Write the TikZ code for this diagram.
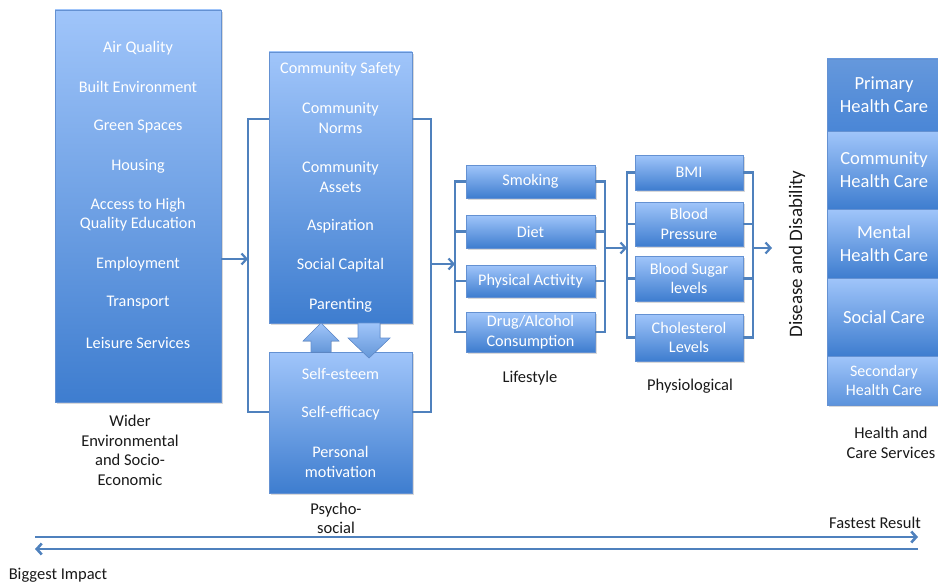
\documentclass[tikz,border=0pt]{standalone}
\usepackage{fontspec}
\setmainfont{Carlito}
\usepackage{xcolor}
\usepackage{tikz}
\usetikzlibrary{calc, arrows.meta, shadows}

\definecolor{linkblue}{RGB}{79,129,189}
\definecolor{boxtop}{RGB}{160,197,250}
\definecolor{boxbot}{RGB}{62,125,207}
\definecolor{boxedge}{RGB}{100,145,210}
\definecolor{prim}{RGB}{74,134,214}

\tikzset{
  bluebox/.style={draw=boxedge, line width=0.6pt, top color=boxtop, bottom color=boxbot,
    inner sep=0pt, drop shadow={opacity=0.3, shadow xshift=1.5pt, shadow yshift=-2pt}},
  wtxt/.style={text=white, font=\fontsize{16.2}{19.6}\selectfont, align=center, inner sep=0pt},
  btxt/.style={text=black!90, font=\fontsize{16.5}{19.6}\selectfont, align=center, inner sep=0pt},
  svc/.style={font=\fontsize{18.5}{23}\selectfont, minimum width=114pt},
  link/.style={draw=linkblue, line width=2.2pt},
  arr/.style={link, ->},
  bigarrow/.style={draw=boxedge, line width=0.6pt, top color=boxtop, bottom color=boxbot!80}
}

\begin{document}
\begin{tikzpicture}[x=1pt, y=-1pt, >={Straight Barb[length=5pt, width=11pt]}]
    \useasboundingbox (0,0) rectangle (938,586);

    % --- Wider determinants ---
    \node[bluebox, minimum width=166pt, minimum height=392pt] (env) at (138,206) {};
    \foreach \yy/\txt [count=\i] in {48/Air Quality, 87/Built Environment, 127/Green Spaces,
        166/Housing, 214.5/{Access to High\\Quality Education}, 264/Employment,
        303/Transport, 343/Leisure Services}
        \node[wtxt] (env\i) at (138,\yy) {\txt};
    \node[btxt] (envlab) at (130,450.5) {Wider\\Environmental\\and Socio-\\Economic};

    % --- Psycho-social ---
    \node[bluebox, minimum width=143pt, minimum height=271pt] (comm) at (340.5,187.5) {};
    \foreach \yy/\txt [count=\i] in {69/Community Safety, 118/{Community\\Norms},
        177/{Community\\Assets}, 226/Aspiration, 265/Social Capital, 305/Parenting}
        \node[wtxt] (comm\i) at (340.5,\yy) {\txt};
    \node[bluebox, minimum width=143pt, minimum height=141pt] (self) at (340.5,422.5) {};
    \foreach \yy/\txt [count=\i] in {374/Self-esteem, 413/Self-efficacy, 462/{Personal\\motivation}}
        \node[wtxt] (self\i) at (340.5,\yy) {\txt};
    \node[btxt] (psylab) at (336,518.5) {Psycho-\\social};

    % block arrows between the two boxes
    \def\ux{321}
    \def\dx{369}
    \fill[bigarrow] (\ux-10,352) -- (\ux-10,341) -- (\ux-18,341) -- (\ux,323)
        -- (\ux+18,341) -- (\ux+10,341) -- (\ux+10,352) -- cycle;
    \fill[bigarrow] (\dx-11,323) -- (\dx-11,338) -- (\dx-21,338) -- (\dx,358)
        -- (\dx+21,338) -- (\dx+11,338) -- (\dx+11,323) -- cycle;

    % --- Lifestyle ---
    \node[bluebox, wtxt, minimum width=129pt, minimum height=33pt] (smoke) at (530.5,181.5) {Smoking};
    \node[bluebox, wtxt, minimum width=129pt, minimum height=33pt] (diet) at (530.5,231.5) {Diet};
    \node[bluebox, wtxt, minimum width=129pt, minimum height=32pt] (phys) at (530.5,281) {Physical Activity};
    \node[bluebox, wtxt, minimum width=129pt, minimum height=40pt] (drug) at (530.5,332) {Drug/Alcohol\\Consumption};
    \node[btxt] (lifelab) at (530,378) {Lifestyle};

    % --- Physiological ---
    \node[bluebox, wtxt, minimum width=108pt, minimum height=35pt] (bmi) at (689,172.5) {BMI};
    \node[bluebox, wtxt, minimum width=108pt, minimum height=44pt] (bp) at (689,224) {Blood\\Pressure};
    \node[bluebox, wtxt, minimum width=108pt, minimum height=45pt] (bs) at (689,278.5) {Blood Sugar\\levels};
    \node[bluebox, wtxt, minimum width=108pt, minimum height=47pt] (chol) at (689,337.5) {Cholesterol\\Levels};
    \node[btxt] (physlab) at (690,386) {Physiological};

    \node[btxt, rotate=90, font=\fontsize{19}{23}\selectfont] (dis) at (797,254) {Disease and Disability};

    % --- Health and care services ---
    \node[bluebox, top color=prim!85!white, bottom color=prim, wtxt, svc, minimum height=72pt] (pri) at (884,95) {Primary\\Health Care};
    \node[bluebox, wtxt, svc, minimum height=78pt] (chc) at (884,170) {Community\\Health Care};
    \node[bluebox, wtxt, svc, minimum height=69pt] (mhc) at (884,243.5) {Mental\\Health Care};
    \node[bluebox, wtxt, svc, minimum height=78pt] (soc) at (884,317) {Social Care};
    \node[bluebox, bottom color=boxbot!70!boxtop, wtxt, svc, font=\fontsize{16}{19}\selectfont, minimum height=49pt] (sec) at (884,380.5) {Secondary\\Health Care};
    \node[btxt] (hcslab) at (891,443) {Health and\\Care Services};

    % --- Connectors ---
    \coordinate (aIn) at (248,259);
    \coordinate (aOut) at (431,264);
    \coordinate (bIn) at (455,264);
    \coordinate (bOut) at (605,248);
    \coordinate (cIn) at (627,248);
    \coordinate (cOut) at (753,248);
    \coordinate (dEnd) at (772,248);

    \draw[arr] (env.east |- aIn) -- (aIn);
    \draw[link] (comm.west |- 0,119) -| (aIn) |- (self.west |- 0,412);
    \draw[link] (comm.east |- 0,119) -| (aOut) |- (self.east |- 0,412);
    \draw[arr] (aOut) -- (bIn);

    \draw[link] (smoke.west) -| (bIn) |- (drug.west);
    \draw[link] (diet.west) -- (diet.west -| bIn);
    \draw[link] (phys.west) -- (phys.west -| bIn);
    \draw[link] (smoke.east) -| (bOut) |- (drug.east);
    \draw[link] (diet.east) -- (diet.east -| bOut);
    \draw[link] (phys.east) -- (phys.east -| bOut);
    \draw[arr] (bOut) -- (cIn);

    \draw[link] (bmi.west) -| (cIn) |- (chol.west);
    \draw[link] (bp.west) -- (bp.west -| cIn);
    \draw[link] (bs.west) -- (bs.west -| cIn);
    \draw[link] (bmi.east) -| (cOut) |- (chol.east);
    \draw[link] (bp.east) -- (bp.east -| cOut);
    \draw[link] (bs.east) -- (bs.east -| cOut);
    \draw[arr] (cOut) -- (dEnd);

    % --- Impact scale ---
    \coordinate (sl1) at (35,537);
    \coordinate (sr1) at (918,537);
    \coordinate (sl2) at (35,549);
    \coordinate (sr2) at (918,549);
    \draw[arr, line width=2.6pt] (sl1) -- (sr1);
    \draw[arr, line width=2.6pt] (sr2) -- (sl2);
    \node[btxt] (fast) at (875,523) {Fastest Result};
    \node[btxt] (big) at (58,575) {Biggest Impact};
\end{tikzpicture}
\end{document}
